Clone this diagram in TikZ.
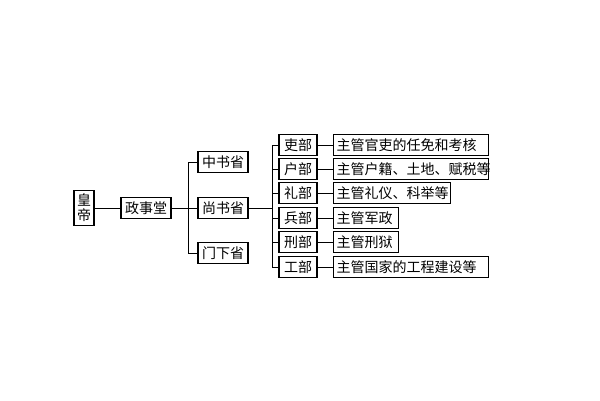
\documentclass[tikz,border=0pt]{standalone}
\usepackage{fontspec}
\newfontfamily\cjk{Noto Sans CJK SC}
\begin{document}
\begin{tikzpicture}[x=1pt,y=-1pt,
  bx/.style={draw,line width=1.3pt,inner sep=0pt,font=\cjk\fontsize{14}{16}\selectfont,minimum height=21pt},
  ln/.style={line width=1pt}]
\useasboundingbox (0,0) rectangle (600,400);
\node[bx,minimum width=20pt,minimum height=35pt,align=center,font=\cjk\fontsize{14}{15}\selectfont] (hd) at (84,208) {皇\\帝};
\node[bx,minimum width=50pt] (zst) at (146,208) {政事堂};
\node[bx,minimum width=50pt] (zs) at (223,162) {中书省};
\node[bx,minimum width=50pt] (ss) at (223,208) {尚书省};
\node[bx,minimum width=50pt] (mx) at (223,253) {门下省};
\coordinate (v1t) at (188,162);
\coordinate (v1b) at (188,253);
\coordinate (v1m) at (188,208);
\draw[ln] (hd) -- (zst);
\draw[ln] (zst) -- (v1m);
\draw[ln] (zs.west) -- (v1t) -- (v1b) -- (mx.west);
\draw[ln] (v1m) -- (ss);
\coordinate (v2t) at (272,145);
\coordinate (v2b) at (272,267);
\coordinate (v2m) at (272,208);
\draw[ln] (ss) -- (v2m);
\draw[ln] (v2t) -- (v2b);
\foreach \i/\y/\a/\b/\w in {1/145/吏部/主管官吏的任免和考核/155,2/169/户部/主管户籍、土地、赋税等/155,3/193/礼部/主管礼仪、科举等/117,4/218/兵部/主管军政/65,5/242/刑部/主管刑狱/65,6/267/工部/主管国家的工程建设等/155}{
  \node[bx,minimum width=38pt] (m\i) at (298,\y) {\a};
  \node[bx,minimum width=\w pt,anchor=west,text width=\w pt-6pt,align=left,inner xsep=3pt] (d\i) at (333,\y) {\b};
  \coordinate (c\i) at (272,\y);
  \draw[ln] (c\i) -- (m\i);
  \draw[ln] (m\i) -- (d\i);
}
\end{tikzpicture}
\end{document}
